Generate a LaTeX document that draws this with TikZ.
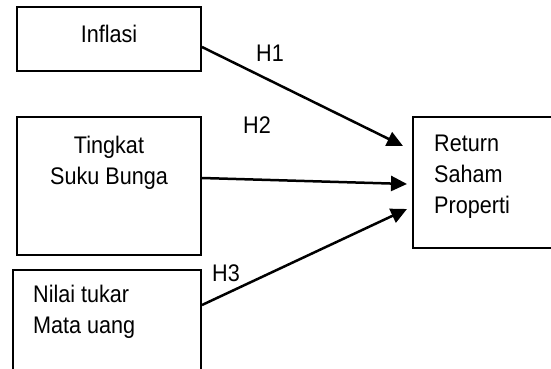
\documentclass[tikz,border=0pt]{standalone}
\usepackage{fontspec}
\setmainfont{Liberation Sans}[FakeStretch=0.9]
\usetikzlibrary{positioning,arrows.meta}

\begin{document}
\begin{tikzpicture}[x=1pt,y=-1pt,
    box/.style={draw, line width=2pt, inner sep=0pt},
    txt/.style={inner sep=0pt, font=\fontsize{24}{31}\selectfont},
    link/.style={line width=2.5pt, -{Triangle[length=16pt,width=15pt]}}]
        \path[use as bounding box] (0,0) rectangle (551,369);
        \clip (0,0) rectangle (551,369);
        % boxes
        \node[box, minimum width=184pt, minimum height=64pt]  (inflasi) at (109,39)    {};
        \node[box, minimum width=184pt, minimum height=138pt] (bunga)   at (109,186)   {};
        \node[box, minimum width=188pt, minimum height=120pt] (kurs)    at (107,330)   {};
        \node[box, minimum width=160pt, minimum height=131pt] (return)  at (493,182.5) {};
        % texts in the boxes
        \node[txt] (inflasitxt) at (109,34) {Inflasi};
        \node[txt, align=center, anchor=north] (bungatxt) at (109,136) {Tingkat\\Suku Bunga};
        \node[txt, align=left, anchor=north west] (kurstxt) at (33,285) {Nilai tukar\\Mata uang};
        \node[txt, align=left, anchor=north west] (returntxt) at (434,135) {Return\\Saham\\Properti};
        % arrow tips
        \coordinate (tip1) at (403,146);
        \coordinate (tip2) at (407,184);
        \coordinate (tip3) at (407,209);
        % arrows
        \draw[link] ([yshift=-8pt]inflasi.east) -- (tip1);
        \draw[link] ([yshift=8pt]bunga.east)    -- (tip2);
        \draw[link] ([yshift=25pt]kurs.east)    -- (tip3);
        % hypotheses
        \node[txt] (h1) at (270,53.5) {H1};
        \node[txt] (h2) at (257,125)  {H2};
        \node[txt] (h3) at (226,273)  {H3};
      \end{tikzpicture}
\end{document}
